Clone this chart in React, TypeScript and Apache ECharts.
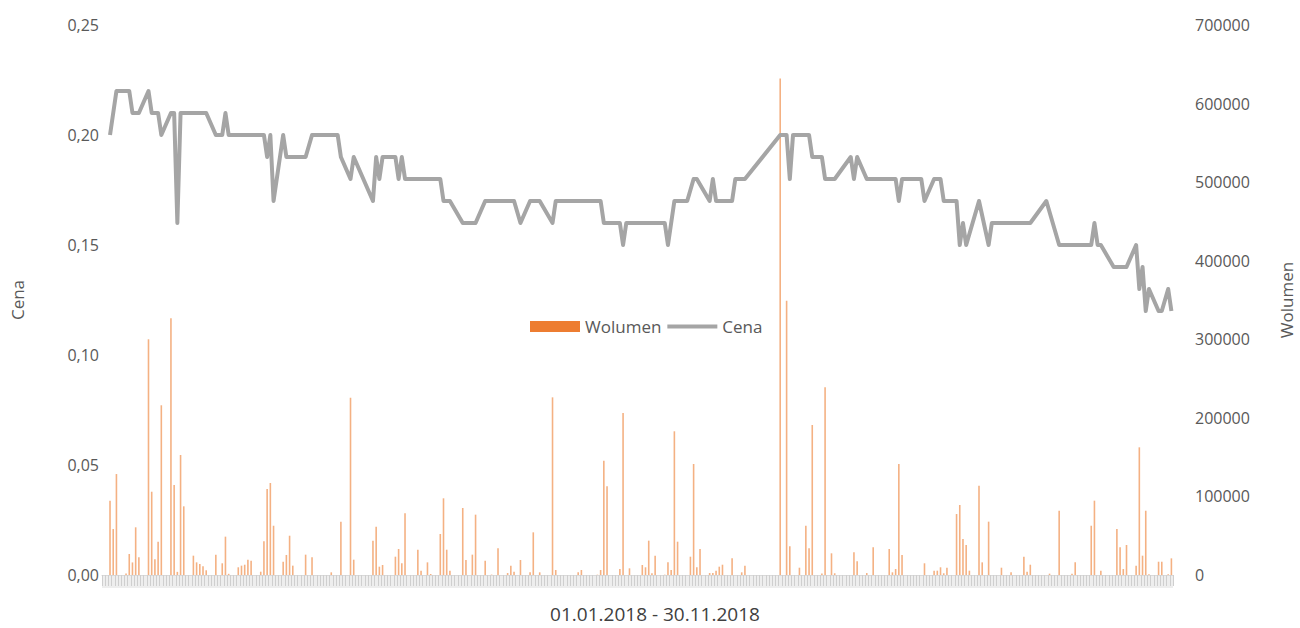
import React, { useEffect, useRef } from "react";
import * as echarts from "echarts";

// Calendar days 01.01.2018 - 30.11.2018 (category labels)
const monthLengths = [31, 28, 31, 30, 31, 30, 31, 31, 30, 31, 30];
const days: string[] = [];
monthLengths.forEach((len, m) => {
  for (let d = 1; d <= len; d++) {
    days.push(`${String(d).padStart(2, "0")}.${String(m + 1).padStart(2, "0")}.2018`);
  }
});

// Closing price (null = no quote that day; line is connected across)
const cena: (number | null)[] = [
  null, null, 0.20, null, 0.22, 0.22, 0.22, 0.22, 0.22, 0.21,
  0.21, 0.21, null, null, 0.22, 0.21, 0.21, 0.21, 0.20, null,
  null, 0.21, 0.21, 0.16, 0.21, 0.21, 0.21, 0.21, 0.21, 0.21,
  0.21, 0.21, 0.21, null, null, 0.20, 0.20, 0.20, 0.21, 0.20,
  0.20, 0.20, 0.20, 0.20, 0.20, 0.20, 0.20, 0.20, 0.20, 0.20,
  0.20, 0.19, 0.20, 0.17, null, null, 0.20, 0.19, 0.19, 0.19,
  0.19, 0.19, 0.19, 0.19, null, 0.20, 0.20, 0.20, 0.20, 0.20,
  0.20, 0.20, 0.20, 0.20, 0.19, null, null, 0.18, 0.19, null,
  null, null, null, null, 0.17, 0.19, 0.18, 0.19, 0.19, 0.19,
  0.19, 0.19, 0.18, 0.19, 0.18, 0.18, 0.18, 0.18, 0.18, 0.18,
  0.18, 0.18, 0.18, 0.18, 0.18, 0.18, 0.17, 0.17, 0.17, null,
  null, null, 0.16, 0.16, 0.16, 0.16, 0.16, null, null, 0.17,
  0.17, 0.17, 0.17, 0.17, 0.17, 0.17, 0.17, 0.17, 0.17, null,
  0.16, null, null, 0.17, 0.17, 0.17, 0.17, null, null, null,
  0.16, 0.17, 0.17, 0.17, 0.17, 0.17, 0.17, 0.17, 0.17, 0.17,
  0.17, 0.17, 0.17, 0.17, 0.17, 0.17, 0.16, 0.16, 0.16, 0.16,
  0.16, 0.16, 0.15, 0.16, 0.16, 0.16, 0.16, 0.16, 0.16, 0.16,
  0.16, 0.16, 0.16, 0.16, 0.16, 0.16, 0.15, null, 0.17, 0.17,
  0.17, 0.17, 0.17, null, 0.18, 0.18, null, null, null, 0.17,
  0.18, 0.17, 0.17, 0.17, 0.17, 0.17, 0.17, 0.18, 0.18, 0.18,
  0.18, null, null, null, null, null, null, null, null, null,
  null, 0.20, 0.20, 0.20, 0.18, 0.20, 0.20, 0.20, 0.20, 0.20,
  0.20, 0.19, 0.19, 0.19, 0.19, 0.18, 0.18, 0.18, 0.18, null,
  null, null, null, 0.19, 0.18, 0.19, null, null, 0.18, 0.18,
  0.18, 0.18, 0.18, 0.18, 0.18, 0.18, 0.18, 0.18, 0.17, 0.18,
  0.18, 0.18, 0.18, 0.18, 0.18, 0.18, 0.17, null, null, 0.18,
  0.18, 0.18, 0.17, 0.17, 0.17, 0.17, 0.17, 0.15, 0.16, 0.15,
  null, null, null, 0.17, null, null, 0.15, 0.16, 0.16, 0.16,
  0.16, 0.16, 0.16, 0.16, 0.16, 0.16, 0.16, 0.16, 0.16, 0.16,
  null, null, null, null, 0.17, null, null, null, 0.15, 0.15,
  0.15, 0.15, 0.15, 0.15, 0.15, 0.15, 0.15, 0.15, 0.15, 0.16,
  0.15, 0.15, null, null, null, 0.14, 0.14, 0.14, 0.14, 0.14,
  null, null, 0.15, 0.13, 0.14, 0.12, 0.13, null, null, 0.12,
  0.12, null, 0.13, 0.12,
];

// Daily volume
const wolumen: number[] = [
  0, 0, 94600, 58500, 128500, 0, 0, 2000, 26700, 16000,
  60700, 22500, 0, 0, 300000, 106000, 20000, 42400, 216000, 0,
  0, 326700, 114500, 4000, 152700, 87400, 0, 0, 24600, 16100,
  14000, 11000, 6000, 0, 0, 25900, 0, 14900, 48800, 1500,
  0, 0, 9800, 11900, 13100, 19500, 18200, 0, 0, 4200,
  42900, 109500, 117100, 62700, 0, 0, 17000, 25500, 50000, 11900,
  0, 0, 0, 25900, 0, 22500, 0, 0, 0, 0,
  0, 3400, 0, 0, 67900, 0, 0, 225600, 19500, 0,
  0, 0, 0, 0, 43700, 61500, 10600, 12700, 0, 0,
  0, 23300, 33100, 14900, 78500, 0, 0, 0, 32200, 5500,
  0, 16100, 1300, 0, 0, 52200, 97600, 32200, 5500, 0,
  0, 0, 85300, 19100, 0, 25900, 76800, 0, 0, 18200,
  0, 500, 0, 34000, 0, 0, 2500, 11900, 4200, 0,
  19100, 0, 0, 3400, 54300, 0, 3400, 0, 0, 0,
  226100, 6400, 0, 0, 0, 0, 0, 0, 3400, 6400,
  0, 0, 0, 0, 400, 6400, 145500, 112900, 0, 0,
  0, 7600, 206200, 0, 8500, 0, 0, 0, 12700, 9800,
  43700, 2200, 24600, 0, 0, 400, 16100, 6400, 182900, 42400,
  0, 0, 0, 23300, 141300, 9800, 33100, 0, 0, 2500,
  2500, 5500, 10600, 13100, 0, 0, 21200, 0, 0, 3400,
  11900, 0, 0, 0, 0, 0, 0, 0, 0, 0,
  0, 632000, 0, 349100, 36500, 0, 0, 9300, 0, 62700,
  34000, 190900, 0, 0, 2000, 238800, 0, 27600, 2200, 0,
  0, 0, 0, 0, 28900, 17400, 0, 0, 2500, 0,
  35300, 0, 0, 0, 0, 33100, 3400, 7600, 141300, 25500,
  0, 0, 0, 0, 0, 0, 14900, 0, 0, 5500,
  5500, 9800, 2200, 9300, 0, 0, 77600, 89100, 45800, 38200,
  5500, 0, 0, 113700, 16100, 0, 67900, 0, 0, 0,
  9300, 0, 0, 3400, 0, 0, 0, 23300, 4200, 13100,
  0, 0, 0, 0, 0, 1700, 0, 0, 81800, 0,
  0, 0, 1700, 16100, 0, 0, 0, 0, 62700, 94600,
  0, 5500, 0, 0, 0, 0, 58500, 35300, 7600, 38200,
  0, 0, 11900, 162500, 24600, 81800, 1000, 0, 0, 16900,
  16900, 0, 1000, 21200,
];

const seriesNames = ["Wolumen", "Cena"];
const axisTitle = "01.01.2018 - 30.11.2018";

export default function App() {
  const ref = useRef<HTMLDivElement>(null);
  useEffect(() => {
    if (!ref.current) return;
    const chart = echarts.init(ref.current, undefined, { renderer: "svg" });
    const font = "'Open Sans', sans-serif";
    const labelColor = "#595959";
    chart.setOption({
      animation: false,
      backgroundColor: "#ffffff",
      textStyle: { fontFamily: font },
      grid: {
        left: 102,
        right: 127,
        top: 25,
        bottom: 53,
        containLabel: false,
        outerBoundsMode: "none",
      },
      legend: {
        left: 530,
        top: 318,
        padding: 0,
        itemWidth: 50,
        itemHeight: 11,
        itemGap: 6,
        textStyle: { color: labelColor, fontSize: 17, fontFamily: font },
        data: [
          { name: seriesNames[0], icon: "rect", itemStyle: { color: "#ed7d31" } },
          {
            name: seriesNames[1],
            icon: "path://M0,0 L50,0 L50,4 L0,4 Z",
            itemStyle: { color: "#a5a5a5" },
          },
        ],
      },
      xAxis: {
        type: "category",
        data: days,
        boundaryGap: true,
        axisLine: { show: true, lineStyle: { color: "#d9d9d9", width: 1 } },
        axisTick: { show: true, interval: 0, length: 11, lineStyle: { color: "#cfcfcf", width: 1 } },
        axisLabel: { show: false },
        splitLine: { show: false },
      },
      yAxis: [
        {
          type: "value",
          min: 0,
          max: 0.25,
          interval: 0.05,
          name: "Cena",
          nameLocation: "middle",
          nameGap: 76,
          nameRotate: 90,
          nameTextStyle: { color: labelColor, fontSize: 17, fontFamily: font },
          axisLine: { show: false },
          axisTick: { show: false },
          splitLine: { show: false },
          axisLabel: {
            color: labelColor,
            fontSize: 16,
            fontFamily: font,
            margin: 3,
            formatter: (v: number) => v.toFixed(2).replace(".", ","),
          },
        },
        {
          type: "value",
          min: 0,
          max: 700000,
          interval: 100000,
          name: "Wolumen",
          nameLocation: "middle",
          nameGap: 105,
          nameRotate: 90,
          nameTextStyle: { color: labelColor, fontSize: 17, fontFamily: font },
          axisLine: { show: false },
          axisTick: { show: false },
          splitLine: { show: false },
          axisLabel: {
            color: labelColor,
            fontSize: 16,
            fontFamily: font,
            margin: 22,
            formatter: (v: number) => String(v),
          },
        },
      ],
      graphic: [
        {
          type: "rect",
          z: -1,
          shape: { x: 102, y: 576, width: 1071, height: 12 },
          style: { fill: "#eeeeee" },
        },
        {
          type: "text",
          x: 655,
          y: 614,
          style: {
            text: axisTitle,
            fill: "#404040",
            font: `19px ${font}`,
            textAlign: "center",
            textVerticalAlign: "middle",
          },
        },
      ],
      series: [
        {
          name: seriesNames[0],
          type: "bar",
          yAxisIndex: 1,
          data: wolumen,
          barWidth: 1.6,
          itemStyle: { color: "#f4b183" },
          z: 2,
        },
        {
          name: seriesNames[1],
          type: "line",
          yAxisIndex: 0,
          data: cena,
          connectNulls: true,
          symbol: "none",
          showSymbol: false,
          lineStyle: { color: "#a5a5a5", width: 4, join: "round" },
          itemStyle: { color: "#a5a5a5" },
          z: 3,
        },
      ],
    });
    return () => chart.dispose();
  }, []);
  return (
    <div
      ref={ref}
      style={{ position: "fixed", left: 0, top: 0, width: 1300, height: 628, background: "#fff" }}
    />
  );
}
